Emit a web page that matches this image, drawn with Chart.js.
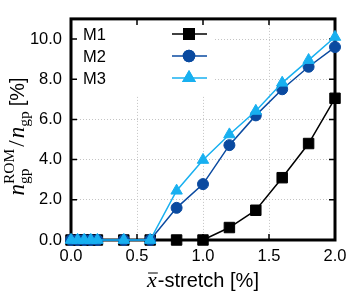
<!DOCTYPE html>
<html>
<head>
<meta charset="utf-8">
<script src="https://cdn.jsdelivr.net/npm/chart.js@4.4.1/dist/chart.umd.min.js"></script>
<style>
  html, body { margin: 0; padding: 0; background: #fff; }
  #chartCanvas { display: block; }
</style>
</head>
<body>
<canvas id="chartCanvas" width="355" height="296"></canvas>
<script>
// data
var stretch = [0, 0.05, 0.1, 0.15, 0.2, 0.4, 0.6, 0.8, 1.0, 1.2, 1.4, 1.6, 1.8, 2.0];
var m1 = [0, 0, 0, 0, 0, 0, 0, 0, 0, 0.62, 1.48, 3.1, 4.8, 7.05];
var m2 = [0, 0, 0, 0, 0, 0, 0, 1.6, 2.78, 4.72, 6.2, 7.5, 8.62, 9.6];
var m3 = [0, 0, 0, 0, 0, 0, 0, 2.45, 3.98, 5.25, 6.42, 7.82, 8.95, 10.1];
var seriesNames = ['M1', 'M2', 'M3'];
var xTicks = [0, 0.5, 1.0, 1.5, 2.0];
var yTicks = [0, 2, 4, 6, 8, 10];

function toPoints(values) {
    return values.map(function (v, i) {
        return {x: stretch[i], y: v};
    });
}

function makeDataset(label, values, color, style, radius, order) {
    return {
        label: label,
        data: toPoints(values),
        borderColor: color,
        backgroundColor: color,
        borderWidth: 1.5,
        pointStyle: style,
        pointRadius: radius,
        pointHoverRadius: radius,
        pointBorderWidth: 1,
        pointBackgroundColor: color,
        pointBorderColor: color,
        clip: false,
        order: order
    };
}

var datasets = [
    makeDataset(seriesNames[0], m1, '#000000', 'rect', 7.4, 3),
    makeDataset(seriesNames[1], m2, '#0a4aa0', 'circle', 5.5, 2),
    makeDataset(seriesNames[2], m3, '#18b0f0', 'triangle', 6.6, 1)
];

var gridColor = function (ctx) {
    var v = ctx.tick.value;
    var scale = ctx.scale;
    if (v <= scale.min || v >= scale.max) return 'rgba(0,0,0,0)';
    return '#c4c4c4';
};

// frame, inward ticks and legend (drawn under the markers)
var framePlugin = {
    id: 'frame',
    beforeDatasetsDraw: function (chart) {
        var ctx = chart.ctx;
        var a = chart.chartArea;
        var xs = chart.scales.x;
        var ys = chart.scales.y;

        // legend box
        ctx.save();
        ctx.fillStyle = '#fff';
        ctx.fillRect(a.left + 1, a.top + 1, 143, 76);
        var rows = [34, 56, 78];
        ctx.font = '16.5px "Liberation Sans", Arial, sans-serif';
        ctx.textBaseline = 'middle';
        ctx.textAlign = 'left';
        chart.data.datasets.forEach(function (ds, i) {
            var y = rows[i];
            ctx.fillStyle = '#000';
            ctx.fillText(ds.label, 83, y + 1);
            ctx.strokeStyle = ds.borderColor;
            ctx.lineWidth = 1.5;
            ctx.beginPath();
            ctx.moveTo(172, y);
            ctx.lineTo(207, y);
            ctx.stroke();
            ctx.fillStyle = ds.backgroundColor;
            Chart.helpers.drawPoint(ctx, {pointStyle: ds.pointStyle, radius: ds.pointRadius, rotation: 0, borderWidth: 1}, 189, y);
            ctx.fill();
            ctx.stroke();
        });
        ctx.restore();

        // frame
        ctx.save();
        ctx.strokeStyle = '#000';
        ctx.lineWidth = 3;
        ctx.strokeRect(a.left, a.top, a.right - a.left, a.bottom - a.top);

        // inward ticks on all four sides
        ctx.lineWidth = 1.5;
        var len = 6;
        xTicks.forEach(function (v) {
            var px = xs.getPixelForValue(v);
            ctx.beginPath();
            ctx.moveTo(px, a.bottom);
            ctx.lineTo(px, a.bottom - len);
            ctx.moveTo(px, a.top);
            ctx.lineTo(px, a.top + len);
            ctx.stroke();
        });
        yTicks.forEach(function (v) {
            var py = ys.getPixelForValue(v);
            ctx.beginPath();
            ctx.moveTo(a.left, py);
            ctx.lineTo(a.left + len, py);
            ctx.moveTo(a.right, py);
            ctx.lineTo(a.right - len, py);
            ctx.stroke();
        });
        ctx.restore();
    }
};

// axis titles with sub/superscripts
var titlePlugin = {
    id: 'titles',
    afterDraw: function (chart) {
        var ctx = chart.ctx;
        var a = chart.chartArea;
        var serifIt = 'italic 23px "Liberation Serif", "DejaVu Serif", serif';
        var serif = '23px "Liberation Serif", "DejaVu Serif", serif';
        var small = '15.5px "Liberation Serif", "DejaVu Serif", serif';
        var sans = '20px "Liberation Sans", Arial, sans-serif';

        // y title: n_gp^ROM / n_gp [%]
        var parts = [
            {t: 'n', f: serifIt, dy: 0},
            {t: 'ROM', f: small, dy: -10, stack: 'gp'},
            {t: '/', f: serif, dy: 0, pad: 2},
            {t: 'n', f: serifIt, dy: 0},
            {t: 'gp', f: small, dy: 5},
            {t: '[%]', f: sans, dy: 0, pad: 5}
        ];
        ctx.save();
        ctx.fillStyle = '#000';
        ctx.textBaseline = 'alphabetic';
        var total = 0;
        parts.forEach(function (p) {
            ctx.font = p.f;
            var w = ctx.measureText(p.t).width;
            if (p.stack) w = Math.max(w, ctx.measureText(p.stack).width);
            p.w = w;
            total += w + (p.pad || 0) * 2;
        });
        ctx.translate(24, 134);
        ctx.rotate(-Math.PI / 2);
        var x = -total / 2;
        parts.forEach(function (p) {
            x += p.pad || 0;
            ctx.font = p.f;
            ctx.fillText(p.t, x, p.dy);
            if (p.stack) ctx.fillText(p.stack, x, 5);
            x += p.w + (p.pad || 0);
        });
        ctx.restore();

        // x title: x-bar-stretch [%]
        ctx.save();
        ctx.fillStyle = '#000';
        ctx.textBaseline = 'alphabetic';
        ctx.font = 'italic 22px "Liberation Serif", "DejaVu Serif", serif';
        var wx = ctx.measureText('x').width;
        ctx.font = sans;
        var rest = '-stretch [%]';
        var wr = ctx.measureText(rest).width;
        var cx = (a.left + a.right) / 2;
        var x0 = cx - (wx + 1 + wr) / 2;
        var base = 287;
        ctx.font = 'italic 22px "Liberation Serif", "DejaVu Serif", serif';
        ctx.fillText('x', x0, base);
        ctx.strokeStyle = '#000';
        ctx.lineWidth = 1;
        ctx.beginPath();
        ctx.moveTo(x0 + 1, base - 14);
        ctx.lineTo(x0 + wx + 1, base - 14);
        ctx.stroke();
        ctx.font = sans;
        ctx.fillText(rest, x0 + wx + 1, base);
        ctx.restore();
    }
};

var chart = new Chart(document.getElementById('chartCanvas'), {
    type: 'line',
    data: {datasets: datasets},
    options: {
        responsive: false,
        animation: false,
        events: [],
        layout: {padding: {left: 0, top: 13, right: 20, bottom: 0}},
        plugins: {
            legend: {display: false},
            tooltip: {enabled: false}
        },
        scales: {
            x: {
                type: 'linear',
                min: 0,
                max: 2,
                afterFit: function (s) { s.height = 56; },
                afterBuildTicks: function (s) {
                    s.ticks = xTicks.map(function (v) { return {value: v}; });
                },
                ticks: {
                    padding: 7,
                    maxRotation: 0,
                    color: '#000',
                    font: {family: '"Liberation Sans", Arial, sans-serif', size: 16.5},
                    callback: function (v) { return Number(v).toFixed(1); }
                },
                grid: {drawTicks: false, color: gridColor, lineWidth: 1},
                border: {display: false, dash: [1, 2]}
            },
            y: {
                type: 'linear',
                min: 0,
                max: 11,
                afterFit: function (s) { s.width = 71; },
                afterBuildTicks: function (s) {
                    s.ticks = yTicks.map(function (v) { return {value: v}; });
                },
                ticks: {
                    padding: 9,
                    color: '#000',
                    font: {family: '"Liberation Sans", Arial, sans-serif', size: 16.5},
                    callback: function (v) { return Number(v).toFixed(1); }
                },
                grid: {drawTicks: false, color: gridColor, lineWidth: 1},
                border: {display: false, dash: [1, 2]}
            }
        }
    },
    plugins: [framePlugin, titlePlugin]
});
</script>
</body>
</html>
